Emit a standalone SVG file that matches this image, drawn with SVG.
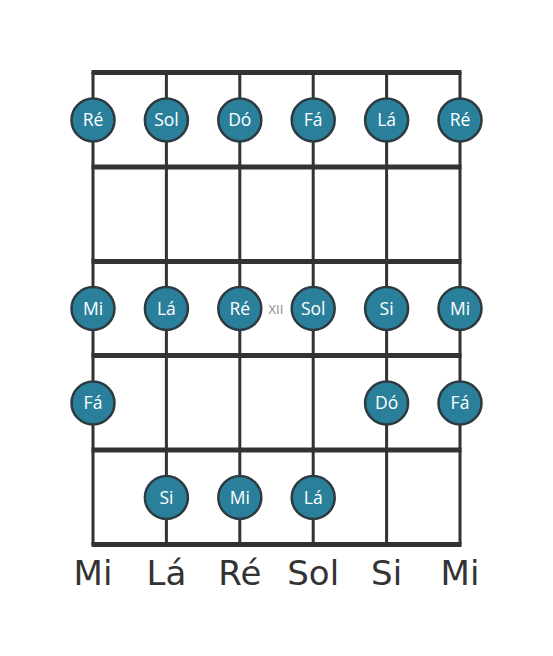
<svg xmlns="http://www.w3.org/2000/svg" width="553" height="656" viewBox="0 0 553 656">
<style>
.str{stroke:#333;stroke-width:3;fill:none}
.fret{stroke:#333;stroke-width:5;fill:none}
.note circle{fill:#2a7f9b;stroke:#2d3a3f;stroke-width:2.5}
.note text{fill:#fff;font-family:"Open Sans",sans-serif;font-size:17.5px;text-anchor:middle}
.lbl{fill:#333;font-family:"DejaVu Sans",sans-serif;font-size:34px;text-anchor:middle}
</style>
<rect width="553" height="656" fill="#fff"/>
<g id="connectors">
<line class="str" x1="93" y1="72" x2="93" y2="545"/>
<line class="str" x1="166.4" y1="72" x2="166.4" y2="545"/>
<line class="str" x1="239.8" y1="72" x2="239.8" y2="545"/>
<line class="str" x1="313.2" y1="72" x2="313.2" y2="545"/>
<line class="str" x1="386.6" y1="72" x2="386.6" y2="545"/>
<line class="str" x1="460" y1="72" x2="460" y2="545"/>
<line class="fret" x1="91.5" y1="72.5" x2="461.5" y2="72.5"/>
<line class="fret" x1="91.5" y1="167" x2="461.5" y2="167"/>
<line class="fret" x1="91.5" y1="261.5" x2="461.5" y2="261.5"/>
<line class="fret" x1="91.5" y1="355.5" x2="461.5" y2="355.5"/>
<line class="fret" x1="91.5" y1="450" x2="461.5" y2="450"/>
<line class="fret" x1="91.5" y1="544.5" x2="461.5" y2="544.5"/>
</g>
<text x="276" y="313.5" fill="#888" font-family="Open Sans,sans-serif" font-size="13" text-anchor="middle">XII</text>
<g id="n1" class="note"><circle cx="93" cy="120" r="21.5"/><text x="93" y="126">Ré</text></g>
<g id="n2" class="note"><circle cx="166.4" cy="120" r="21.5"/><text x="166.4" y="126">Sol</text></g>
<g id="n3" class="note"><circle cx="239.8" cy="120" r="21.5"/><text x="239.8" y="126">Dó</text></g>
<g id="n4" class="note"><circle cx="313.2" cy="120" r="21.5"/><text x="313.2" y="126">Fá</text></g>
<g id="n5" class="note"><circle cx="386.6" cy="120" r="21.5"/><text x="386.6" y="126">Lá</text></g>
<g id="n6" class="note"><circle cx="460" cy="120" r="21.5"/><text x="460" y="126">Ré</text></g>
<g id="n7" class="note"><circle cx="93" cy="308.5" r="21.5"/><text x="93" y="314.5">Mi</text></g>
<g id="n8" class="note"><circle cx="166.4" cy="308.5" r="21.5"/><text x="166.4" y="314.5">Lá</text></g>
<g id="n9" class="note"><circle cx="239.8" cy="308.5" r="21.5"/><text x="239.8" y="314.5">Ré</text></g>
<g id="n10" class="note"><circle cx="313.2" cy="308.5" r="21.5"/><text x="313.2" y="314.5">Sol</text></g>
<g id="n11" class="note"><circle cx="386.6" cy="308.5" r="21.5"/><text x="386.6" y="314.5">Si</text></g>
<g id="n12" class="note"><circle cx="460" cy="308.5" r="21.5"/><text x="460" y="314.5">Mi</text></g>
<g id="n13" class="note"><circle cx="93" cy="403" r="21.5"/><text x="93" y="409">Fá</text></g>
<g id="n14" class="note"><circle cx="386.6" cy="403" r="21.5"/><text x="386.6" y="409">Dó</text></g>
<g id="n15" class="note"><circle cx="460" cy="403" r="21.5"/><text x="460" y="409">Fá</text></g>
<g id="n16" class="note"><circle cx="166.4" cy="497.5" r="21.5"/><text x="166.4" y="503.5">Si</text></g>
<g id="n17" class="note"><circle cx="239.8" cy="497.5" r="21.5"/><text x="239.8" y="503.5">Mi</text></g>
<g id="n18" class="note"><circle cx="313.2" cy="497.5" r="21.5"/><text x="313.2" y="503.5">Lá</text></g>
<g id="labels">
<text class="lbl" x="93" y="585">Mi</text>
<text class="lbl" x="166.4" y="585">Lá</text>
<text class="lbl" x="239.8" y="585">Ré</text>
<text class="lbl" x="313.2" y="585">Sol</text>
<text class="lbl" x="386.6" y="585">Si</text>
<text class="lbl" x="460" y="585">Mi</text>
</g>
</svg>
